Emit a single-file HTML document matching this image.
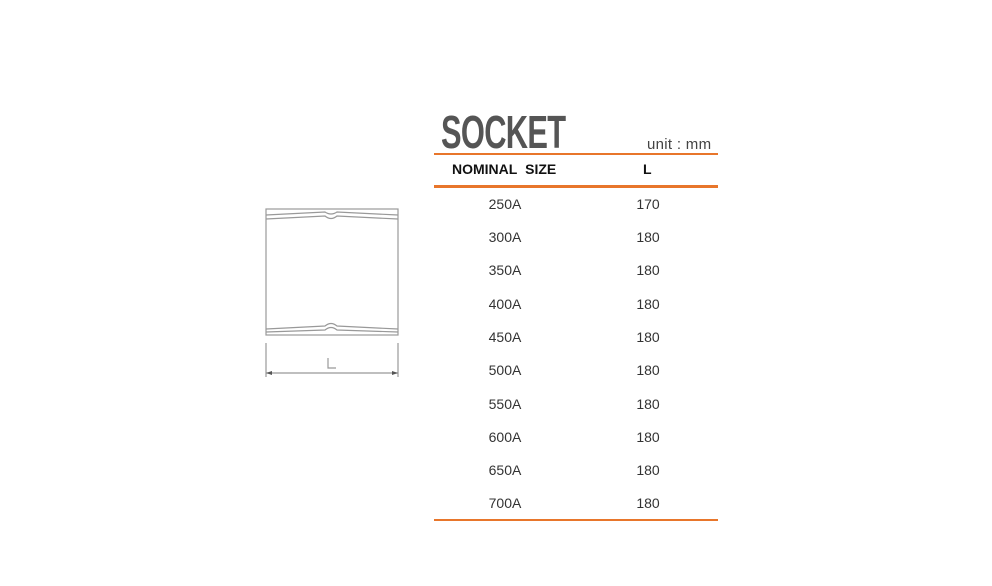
<!DOCTYPE html>
<html><head><style>
body{margin:0;width:992px;height:586px;background:#fff;position:relative;overflow:hidden;font-family:"Liberation Sans",sans-serif;}
.t{position:absolute;color:#333;font-size:14px;}
.c1{left:455px;width:100px;text-align:center;}
.c2{left:598px;width:100px;text-align:center;}
.ln{position:absolute;left:434px;width:284px;background:#e8762b;}
</style></head><body>
<div style="position:absolute;left:441px;top:107px;font-size:46px;font-weight:bold;color:#555;transform:scaleX(0.67);transform-origin:left top;letter-spacing:-1px;line-height:50px">SOCKET</div>
<div class="t" style="left:647px;top:136px;font-size:15px;color:#444;letter-spacing:0.3px">unit : mm</div>
<div class="ln" style="top:153px;height:2px;"></div>
<div class="t" style="left:452px;top:161px;font-weight:bold;color:#111;font-size:14px">NOMINAL&nbsp; SIZE</div>
<div class="t" style="left:643px;top:161px;font-weight:bold;color:#111">L</div>
<div class="ln" style="top:185px;height:3px;"></div>
<div class="ln" style="top:519px;height:2px;"></div>
<div class="t c1" style="top:196px">250A</div><div class="t c2" style="top:196px">170</div>
<div class="t c1" style="top:229px">300A</div><div class="t c2" style="top:229px">180</div>
<div class="t c1" style="top:262px">350A</div><div class="t c2" style="top:262px">180</div>
<div class="t c1" style="top:296px">400A</div><div class="t c2" style="top:296px">180</div>
<div class="t c1" style="top:329px">450A</div><div class="t c2" style="top:329px">180</div>
<div class="t c1" style="top:362px">500A</div><div class="t c2" style="top:362px">180</div>
<div class="t c1" style="top:396px">550A</div><div class="t c2" style="top:396px">180</div>
<div class="t c1" style="top:429px">600A</div><div class="t c2" style="top:429px">180</div>
<div class="t c1" style="top:462px">650A</div><div class="t c2" style="top:462px">180</div>
<div class="t c1" style="top:495px">700A</div><div class="t c2" style="top:495px">180</div>
<svg style="position:absolute;left:0;top:0" width="992" height="586">
<g fill="none" stroke="#999" stroke-width="1.2">
<rect x="266" y="209" width="132" height="126"/>
<path d="M266 215 L325 212 Q331 216 337 212 L398 215"/>
<path d="M266 219 L325 216 Q331 221 337 216 L398 219"/>
<path d="M266 329 L325 326 Q331 321 337 326 L398 329"/>
<path d="M266 332 L325 330 Q331 325 337 330 L398 332"/>
<path d="M266 343 V377 M398 343 V377 M266 373 H398"/>
<path d="M328 358 V368 H336"/>
</g>
<path d="M266 373 l6 -2 v4z M398 373 l-6 -2 v4z" fill="#555"/>
</svg>
</body></html>
